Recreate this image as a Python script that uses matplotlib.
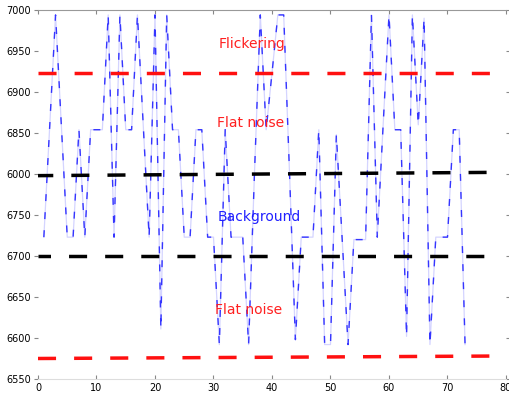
import matplotlib
matplotlib.use('Agg')
from matplotlib import pyplot as plt

# signal samples, one per frame
frames = list(range(1, 74))
signal = [6723, 6858, 6994, 6858, 6723, 6723, 6854, 6723, 6854, 6854,
          6854, 6994, 6723, 6994, 6854, 6854, 6994, 6858, 6723, 6994,
          6611, 6994, 6854, 6854, 6723, 6723, 6854, 6854, 6723, 6723,
          6592, 6854, 6723, 6723, 6723, 6592, 6800, 6994, 6854, 6923,
          6994, 6994, 6800, 6598, 6723, 6723, 6723, 6854, 6592, 6592,
          6848, 6720, 6592, 6720, 6720, 6720, 6994, 6723, 6860, 6994,
          6854, 6854, 6602, 6994, 6860, 6990, 6592, 6723, 6723, 6723,
          6854, 6854, 6592]

# threshold lines (start, end levels)
line_x = [0, 78]
flicker_lvl = [6923, 6923]
upper_lvl = [6798, 6802]
lower_lvl = [6700, 6700]
bottom_lvl = [6575, 6578]

yticks = [6550, 6600, 6650, 6700, 6750, 6800, 6850, 6900, 6950, 7000]
ytick_labels = ['6550', '6600', '6650', '6700', '6750', '6000', '6850', '6900', '6950', '7000']
xticks = [0, 10, 20, 30, 40, 50, 60, 70, 80]

plt.rcParams['lines.scale_dashes'] = False

fig = plt.figure(figsize=(5.1, 3.97), dpi=100)
ax = fig.add_axes([38/510, 1-379/397, 468/510, 369/397])

ax.plot(frames, signal, color='#d4d4ff', lw=0.9)
ax.plot(frames, signal, color='#3535ff', lw=1.0, dashes=(5, 8))

ax.plot(line_x, flicker_lvl, color='#ff1010', lw=2.5, dashes=(13, 13))
ax.plot(line_x, upper_lvl, color='black', lw=2.5, linestyle=(2, (13, 13)))
ax.plot(line_x, lower_lvl, color='black', lw=2.5, linestyle=(4, (13, 13)))
ax.plot(line_x, bottom_lvl, color='#ff1010', lw=2.5, dashes=(13, 13))

ax.text(36.6, 6958, 'Flickering', color='#ff2020', fontsize=10, ha='center', va='center')
ax.text(36.4, 6862, 'Flat noise', color='#ff2020', fontsize=10, ha='center', va='center')
ax.text(37.8, 6748, 'Background', color='#2020ff', fontsize=10, ha='center', va='center')
ax.text(36.0, 6634, 'Flat noise', color='#ff2020', fontsize=10, ha='center', va='center')

ax.set_xlim(0, 80)
ax.set_ylim(6550, 7000)
ax.set_xticks(xticks)
ax.set_yticks(yticks)
ax.set_yticklabels(ytick_labels)
ax.tick_params(axis='both', labelsize=7, length=3, color='#888888')
ax.tick_params(axis='y', direction='out', right=True, pad=2)
ax.tick_params(axis='x', direction='in', top=True, pad=3)

ax.spines['left'].set_visible(False)
ax.spines['right'].set_visible(False)
ax.spines['top'].set_color('#999999')
ax.spines['bottom'].set_color('#dddddd')

fig.savefig('out.png', dpi=100)
